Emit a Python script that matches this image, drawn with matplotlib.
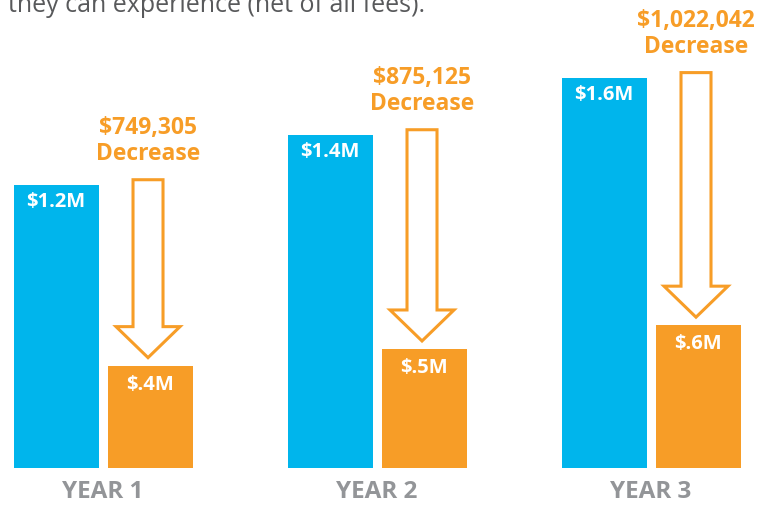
import matplotlib.pyplot as plt
from matplotlib.patches import Polygon

# values (millions)
years = ["YEAR 1", "YEAR 2", "YEAR 3"]
before = [1.19, 1.40, 1.64]
after = [0.43, 0.50, 0.60]
before_labels = ["$1.2M", "$1.4M", "$1.6M"]
after_labels = ["$.4M", "$.5M", "$.6M"]
decreases = ["$749,305", "$875,125", "$1,022,042"]

BLUE = "#00B5EC"
ORANGE = "#F79D27"
GRAY = "#939598"
FONT = "Open Sans"

fig = plt.figure(figsize=(7.68, 5.08), dpi=100)
ax = fig.add_axes([0, 0, 1, 1])
ax.set_xlim(-0.376, 2.427)
ax.set_ylim(-0.168, 1.966)
ax.axis("off")

px_x = 1 / 274.0   # one pixel in x data units
px_y = 1 / 238.0   # one pixel in y data units

width = 85 * px_x
off = 47 * px_x

for i in range(len(years)):
    xb = i - off
    xo = i + off
    ax.bar(xb, before[i], width=width, color=BLUE)
    ax.bar(xo, after[i], width=width, color=ORANGE)

    ax.text(xb, before[i] - 17 * px_y, before_labels[i], color="white", fontsize=14.5,
            fontweight="bold", family=FONT, ha="center", va="center")
    ax.text(xo, after[i] - 19 * px_y, after_labels[i], color="white", fontsize=14.5,
            fontweight="bold", family=FONT, ha="center", va="center")

    # hollow arrow from the blue top down to the orange bar
    top = before[i] + 5 * px_y
    tip = after[i] + 8 * px_y
    head = 31 * px_y
    sw = 15 * px_x
    hw = 32 * px_x
    xc = xo - 2 * px_x
    pts = [(xc - sw, top), (xc + sw, top), (xc + sw, tip + head), (xc + hw, tip + head),
           (xc, tip), (xc - hw, tip + head), (xc - sw, tip + head)]
    ax.add_patch(Polygon(pts, closed=True, facecolor="white", edgecolor=ORANGE, linewidth=2.2))

    ax.text(xc, top + 52 * px_y, decreases[i], color=ORANGE, fontsize=16.5,
            fontweight="bold", family=FONT, ha="center", va="center")
    ax.text(xc, top + 26 * px_y, "Decrease", color=ORANGE, fontsize=16.5,
            fontweight="bold", family=FONT, ha="center", va="center")

    ax.text(i, -24 * px_y, years[i], color=GRAY, fontsize=17.5, fontweight="bold",
            family=FONT, ha="center", va="center")

fig.text(8 / 768, 1 - 12 / 508, "they can experience (net of all fees).", color="#58595B",
         fontsize=18, family=FONT, ha="left", va="baseline")

fig.savefig("out.png", dpi=100)
